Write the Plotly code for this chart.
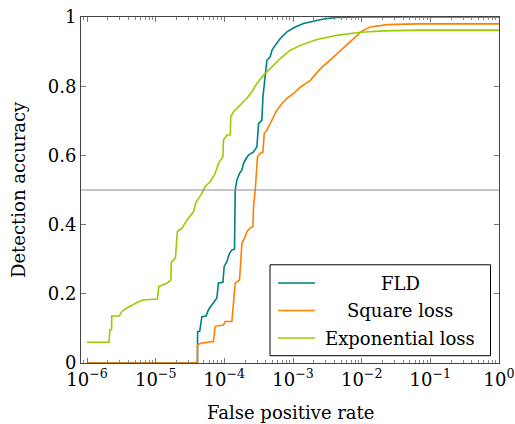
import plotly.graph_objects as go

# ---------------- data ----------------
fld_fpr = [1e-6, 4.055e-5, 4.08e-5, 4.37e-5, 4.71e-5, 5.43e-5, 5.87e-5, 6.58e-5, 7.78e-5, 8.22e-5,
           9.53e-5, 9.95e-5, 1.089e-4, 1.189e-4, 1.288e-4, 1.406e-4, 1.439e-4, 1.524e-4, 1.663e-4,
           1.803e-4, 1.901e-4, 2.080e-4, 2.249e-4, 2.661e-4, 2.979e-4, 3.148e-4, 3.524e-4, 3.648e-4,
           3.945e-4, 4.169e-4, 4.656e-4, 4.932e-4, 5.508e-4, 6.516e-4, 8.166e-4, 1.079e-3, 1.426e-3,
           1.995e-3, 2.761e-3, 4.375e-3, 9.57e-3, 1.0]
fld_acc = [0.0, 0.0, 0.091, 0.091, 0.134, 0.136, 0.154, 0.168, 0.188, 0.231,
           0.233, 0.279, 0.293, 0.317, 0.327, 0.329, 0.500, 0.529, 0.548,
           0.558, 0.577, 0.591, 0.601, 0.610, 0.625, 0.692, 0.702, 0.769,
           0.827, 0.875, 0.885, 0.904, 0.918, 0.938, 0.957, 0.971, 0.981,
           0.988, 0.994, 0.999, 1.0, 1.0]

sq_fpr = [1e-6, 4.055e-5, 4.08e-5, 4.71e-5, 6.95e-5, 7.35e-5, 9.71e-5, 1.028e-4, 1.288e-4, 1.359e-4,
          1.439e-4, 1.663e-4, 1.803e-4, 2.014e-4, 2.133e-4, 2.382e-4, 2.606e-4, 2.661e-4, 2.818e-4,
          3.041e-4, 3.334e-4, 3.648e-4, 3.81e-4, 4.169e-4, 4.656e-4, 5.10e-4, 5.83e-4, 6.90e-4,
          8.17e-4, 1.019e-3, 1.276e-3, 1.786e-3, 2.495e-3, 3.90e-3, 6.84e-3, 1.014e-2, 1.340e-2,
          2.35e-2, 6.42e-2, 1.0]
sq_acc = [0.0, 0.0, 0.053, 0.058, 0.062, 0.106, 0.110, 0.120, 0.120, 0.173,
          0.231, 0.240, 0.346, 0.365, 0.380, 0.390, 0.394, 0.452, 0.500,
          0.596, 0.606, 0.610, 0.664, 0.673, 0.692, 0.711, 0.731, 0.750,
          0.765, 0.779, 0.797, 0.817, 0.850, 0.885, 0.928, 0.960, 0.971,
          0.978, 0.980, 0.980]

exp_fpr = [1e-6, 2.09e-6, 2.16e-6, 2.28e-6, 2.29e-6, 2.96e-6, 3.21e-6, 3.79e-6, 4.49e-6, 5.31e-6,
           6.49e-6, 1.06e-5, 1.11e-5, 1.48e-5, 1.66e-5, 1.69e-5, 1.94e-5, 2.07e-5, 2.40e-5,
           2.90e-5, 3.55e-5, 3.88e-5, 4.55e-5, 5.26e-5, 6.22e-5, 7.35e-5, 8.21e-5, 9.53e-5,
           9.71e-5, 1.09e-4, 1.22e-4, 1.24e-4, 1.36e-4, 1.70e-4, 2.13e-4, 2.52e-4, 2.98e-4,
           3.72e-4, 4.66e-4, 6.52e-4, 9.12e-4, 1.28e-3, 2.23e-3, 4.37e-3, 9.57e-3, 2.09e-2,
           7.18e-2, 1.0]
exp_acc = [0.060, 0.060, 0.096, 0.096, 0.136, 0.136, 0.149, 0.159, 0.166, 0.175,
           0.182, 0.185, 0.221, 0.231, 0.240, 0.291, 0.304, 0.380, 0.389,
           0.415, 0.437, 0.466, 0.485, 0.510, 0.524, 0.548, 0.577, 0.596,
           0.644, 0.659, 0.659, 0.711, 0.726, 0.745, 0.765, 0.784, 0.808,
           0.832, 0.851, 0.880, 0.904, 0.918, 0.935, 0.947, 0.956, 0.960,
           0.962, 0.962]

series_names = ["FLD", "Square loss", "Exponential loss"]
series_colors = ["#008080", "#FF8000", "#99CC00"]

x_tickvals = [1e-6, 1e-5, 1e-4, 1e-3, 1e-2, 1e-1, 1e0]
x_ticktext = ["10<sup>\u22126</sup>", "10<sup>\u22125</sup>", "10<sup>\u22124</sup>",
              "10<sup>\u22123</sup>", "10<sup>\u22122</sup>", "10<sup>\u22121</sup>", "10<sup>0</sup>"]
y_tickvals = [0, 0.2, 0.4, 0.6, 0.8, 1.0]
y_ticktext = ["0", "0.2", "0.4", "0.6", "0.8", "1"]
threshold = 0.5

FONT = "DejaVu Serif"
FS = 18

fig = go.Figure()
for xs, ys, name, col in zip([fld_fpr, sq_fpr, exp_fpr], [fld_acc, sq_acc, exp_acc],
                             series_names, series_colors):
    fig.add_trace(go.Scatter(x=xs, y=ys, mode="lines", name=name,
                             line=dict(color=col, width=1.6), showlegend=False))

fig.add_hline(y=threshold, line=dict(color="#8c8c8c", width=1))

axcol = "#444444"
minor_vals = [m * 10 ** e for e in range(-7, 0) for m in range(2, 10) if 8.2e-7 <= m * 10 ** e <= 1]
fig.update_layout(
    width=515, height=424,
    margin=dict(l=81, r=16, t=17, b=61, autoexpand=False),
    paper_bgcolor="white", plot_bgcolor="white",
    font=dict(family=FONT, size=FS, color="black"),
    xaxis=dict(type="log", range=[-6.0875, 0.0], tickmode="array", automargin=False,
               tickvals=x_tickvals, ticktext=x_ticktext,
               showline=True, linecolor=axcol, linewidth=1, mirror="ticks",
               ticks="inside", ticklen=5, tickcolor="#777777", showgrid=False, zeroline=False,
               minor=dict(ticks="inside", ticklen=3, tickcolor="#888888", showgrid=False,
                          tickvals=minor_vals),
               tickfont=dict(size=FS, family=FONT)),
    yaxis=dict(range=[0, 1], tickmode="array", tickvals=y_tickvals, ticktext=y_ticktext,
               automargin=False,
               showline=True, linecolor=axcol, linewidth=1, mirror="ticks",
               ticks="inside", ticklen=5, tickcolor="#777777", showgrid=False, zeroline=False,
               tickfont=dict(size=FS, family=FONT)),
)

# axis titles
fig.add_annotation(text="False positive rate", xref="paper", yref="paper", x=0.5, y=0,
                   yshift=-49, xanchor="center", yanchor="middle", showarrow=False,
                   font=dict(size=FS, family=FONT))
fig.add_annotation(text="Detection accuracy", xref="paper", yref="paper", x=0, y=0.5,
                   xshift=-63, xanchor="center", yanchor="middle", textangle=-90, showarrow=False,
                   font=dict(size=FS, family=FONT))

# custom legend box
W, H = 418.0, 346.3
def px(x):
    return (x - 81) / W
def py(y):
    return (363.3 - y) / H

fig.add_shape(type="rect", xref="paper", yref="paper", x0=px(270), x1=px(490.5),
              y0=py(356), y1=py(265), line=dict(color="black", width=1), fillcolor="white",
              layer="above")
rows = [283.3, 310.7, 338.3]
for name, col, ry in zip(series_names, series_colors, rows):
    fig.add_shape(type="line", xref="paper", yref="paper", x0=px(278), x1=px(315),
                  y0=py(ry), y1=py(ry), line=dict(color=col, width=1.6), layer="above")
    fig.add_annotation(text=name, xref="paper", yref="paper", x=px(400), y=py(ry),
                       xanchor="center", yanchor="middle", showarrow=False,
                       font=dict(size=FS, family=FONT))

fig.write_html("out.html")
